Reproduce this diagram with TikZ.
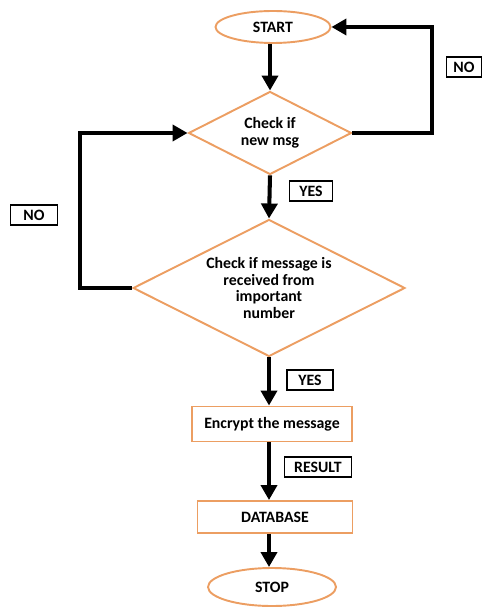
\documentclass[tikz,border=0pt]{standalone}
\usepackage{fontspec}
\setmainfont{Carlito}
\usepackage{tikz}
\usetikzlibrary{shapes.geometric,arrows.meta}
\definecolor{boxorange}{RGB}{236,158,98}
\tikzset{
	stepfont/.style={font=\fontsize{9}{9.6}\selectfont\bfseries, align=center},
	terminal/.style={stepfont, ellipse, draw=boxorange, line width=1.1pt, inner sep=0pt},
	decision/.style={stepfont, diamond, aspect=2, draw=boxorange, line width=1.1pt, inner sep=0pt},
	process/.style={stepfont, rectangle, draw=boxorange, line width=1.1pt, inner sep=0pt},
	tag/.style={stepfont, rectangle, draw=black, line width=0.6pt, inner sep=0pt, minimum height=0.4cm},
	flow/.style={line width=2.3pt, -{Triangle[length=3mm,width=3.2mm]}},
}

\begin{document}
\begin{tikzpicture}[x=0.02cm, y=-0.02cm]
		%%%%% START %%%%%
		\useasboundingbox (0, 0) rectangle (485, 607);
		
		% shapes
		\node[terminal, minimum width=2.3cm, minimum height=0.64cm] (start) at (273, 27) {START};
		\node[decision, minimum width=3.26cm, minimum height=1.66cm] (newmsg) at (270, 133) {Check if\\new msg};
		\node[decision, minimum width=5.44cm, minimum height=2.74cm] (important) at (269, 288) {Check if message is\\received from\\important\\number};
		\node[process, minimum width=3.2cm, minimum height=0.7cm] (encrypt) at (272, 424) {Encrypt the message};
		\node[process, minimum width=3.1cm, minimum height=0.64cm] (database) at (275, 517) {DATABASE};
		\node[terminal, minimum width=2.56cm, minimum height=0.76cm] (stop) at (272, 587) {STOP};
		
		% labels
		\node[tag, minimum width=0.7cm] (noright) at (464, 67) {NO};
		\node[tag, minimum width=0.94cm] (noleft) at (34, 215) {NO};
		\node[tag, minimum width=0.86cm] (yesone) at (311, 191) {YES};
		\node[tag, minimum width=0.92cm] (yestwo) at (310, 380) {YES};
		\node[tag, minimum width=1.34cm] (result) at (318, 467) {RESULT};
		
		% corners of the loops
		\coordinate (cornerR) at (432, 27);
		\coordinate (cornerL) at (80, 133);
		
		% connectors
		\draw[flow] (start.south -| newmsg.north) -- (newmsg.north);
		\draw[flow] (newmsg.south) -- (important.north);
		\draw[flow] (important.south) -- (important.south |- encrypt.north);
		\draw[flow] (important.south |- encrypt.south) -- (important.south |- database.north);
		\draw[flow] (important.south |- database.south) -- (important.south |- stop.north);
		\draw[flow] (newmsg.east) -| (cornerR) -- (start.east);
		\draw[flow] (important.west) -| (cornerL) -- (newmsg.west);
		
		%%%%% END %%%%%
	\end{tikzpicture}
\end{document}
